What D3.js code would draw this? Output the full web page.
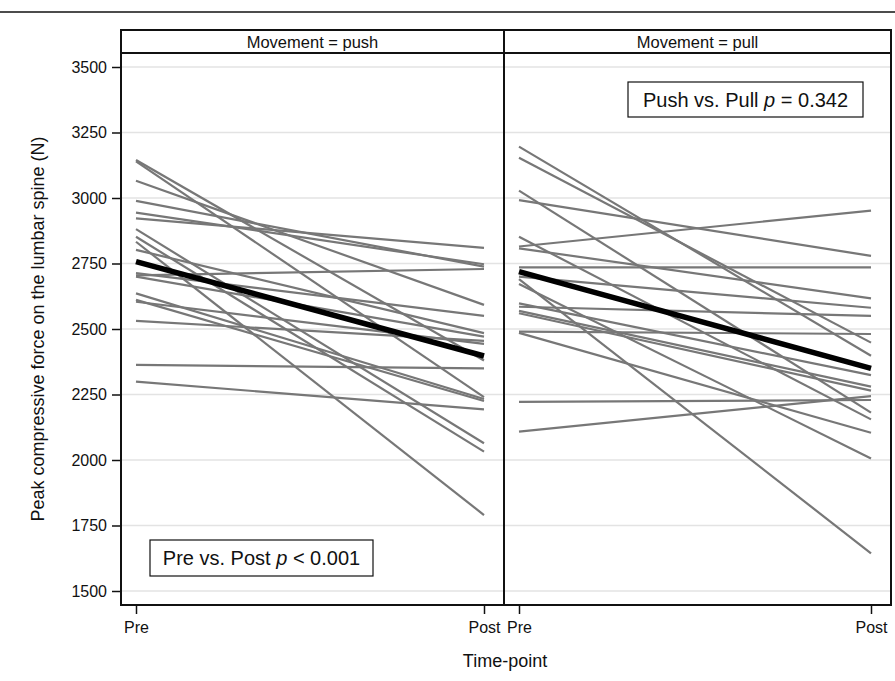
<!DOCTYPE html>
<html>
<head>
<meta charset="utf-8">
<script src="https://cdn.jsdelivr.net/npm/d3@7"></script>
<style>
  body { margin: 0; background: #fff; }
  text { font-family: "Liberation Sans", Arial, sans-serif; }
</style>
</head>
<body>
<div id="chart"></div>
<script>
// time points on the x axis
var timePoints = ["Pre", "Post"];
var yTicks = [1500, 1750, 2000, 2250, 2500, 2750, 3000, 3250, 3500];

// Movement = push, one line per subject
var pushPre  = [3145, 3140, 3066, 2989, 2944, 2922, 2881, 2852, 2833, 2802, 2713, 2705, 2700, 2636, 2611, 2604, 2531, 2363, 2299];
var pushPost = [2380, 2240, 2592, 2738, 2747, 2810, 2064, 2032, 1790, 2484, 2550, 2729, 2471, 2233, 2225, 2443, 2455, 2350, 2193];
var pushMean = [2757, 2397];

// Movement = pull
var pullPre  = [3196, 3154, 3028, 2992, 2852, 2815, 2808, 2735, 2700, 2690, 2672, 2598, 2585, 2569, 2560, 2490, 2485, 2222, 2108];
var pullPost = [2398, 2448, 2181, 2779, 2155, 2952, 2617, 2735, 2581, 1644, 2006, 2324, 2550, 2280, 2265, 2481, 2104, 2229, 2244];
var pullMean = [2719, 2350];

var width = 895, height = 681;
var svg = d3.select("#chart").append("svg")
    .attr("width", width)
    .attr("height", height);

var plotTop = 53, plotBottom = 605, headTop = 30;
var y = d3.scaleLinear().domain([1500, 3500]).range([591, 67]);

var panels = [
  {label: "Movement = push", x0: 121, x1: 504, pre: pushPre, post: pushPost, mean: pushMean},
  {label: "Movement = pull", x0: 504, x1: 891, pre: pullPre, post: pullPost, mean: pullMean}
];

// top rule
svg.append("line")
    .attr("x1", 0).attr("x2", width)
    .attr("y1", 12).attr("y2", 12)
    .style("stroke", "#111").style("stroke-width", 1.5);

panels.forEach(function(p, i) {
  var x = d3.scalePoint().domain(timePoints)
      .range([p.x0 + 15, p.x1 - 20]);

  var g = svg.append("g");

  // grid lines
  g.selectAll("line.grid").data(yTicks).enter().append("line")
      .attr("class", "grid")
      .attr("x1", p.x0).attr("x2", p.x1)
      .attr("y1", function(d) { return y(d); })
      .attr("y2", function(d) { return y(d); })
      .style("stroke", "#e3e3e3").style("stroke-width", 1.5);

  // subject lines
  var idx = d3.range(p.pre.length);
  g.selectAll("line.subj").data(idx).enter().append("line")
      .attr("class", "subj")
      .attr("x1", x("Pre")).attr("x2", x("Post"))
      .attr("y1", function(d) { return y(p.pre[d]); })
      .attr("y2", function(d) { return y(p.post[d]); })
      .style("stroke", "#777").style("stroke-width", 2.2);

  // mean line
  g.append("line")
      .attr("x1", x("Pre")).attr("x2", x("Post"))
      .attr("y1", y(p.mean[0])).attr("y2", y(p.mean[1]))
      .style("stroke", "#000").style("stroke-width", 5.5);

  // panel frame and header strip
  g.append("rect")
      .attr("x", p.x0).attr("y", plotTop)
      .attr("width", p.x1 - p.x0).attr("height", plotBottom - plotTop)
      .style("fill", "none").style("stroke", "#111").style("stroke-width", 2);
  g.append("rect")
      .attr("x", p.x0).attr("y", headTop)
      .attr("width", p.x1 - p.x0).attr("height", plotTop - headTop)
      .style("fill", "#fff").style("stroke", "#111").style("stroke-width", 2);
  g.append("text")
      .attr("x", (p.x0 + p.x1) / 2).attr("y", 47.5)
      .attr("text-anchor", "middle")
      .style("font-size", "16.5px").style("fill", "#111")
      .text(p.label);

  // x axis
  var xAxis = d3.axisBottom(x).tickSize(8).tickPadding(8);
  var ax = svg.append("g")
      .attr("transform", "translate(0," + (plotBottom + 1) + ")")
      .call(xAxis);
  ax.select(".domain").remove();
  ax.selectAll("line").style("stroke", "#111").style("stroke-width", 1.5);
  ax.selectAll("text").style("font-size", "16px").style("fill", "#111")
      .style("font-family", "Liberation Sans, Arial, sans-serif");
});

// y axis
var yAxis = d3.axisLeft(y).tickValues(yTicks).tickFormat(d3.format("d"))
    .tickSize(8).tickPadding(5);
var ay = svg.append("g")
    .attr("transform", "translate(120,0)")
    .call(yAxis);
ay.select(".domain").remove();
ay.selectAll("line").style("stroke", "#111").style("stroke-width", 1.5);
ay.selectAll("text").style("font-size", "16px").style("fill", "#111")
    .style("font-family", "Liberation Sans, Arial, sans-serif");

svg.append("text")
    .attr("transform", "translate(44,329) rotate(-90)")
    .attr("text-anchor", "middle")
    .style("font-size", "18px").style("fill", "#111")
    .text("Peak compressive force on the lumbar spine (N)");

svg.append("text")
    .attr("x", 505).attr("y", 667)
    .attr("text-anchor", "middle")
    .style("font-size", "18px").style("fill", "#111")
    .text("Time-point");

// annotation boxes
function note(x0, y0, w, h, before, after) {
  svg.append("rect")
      .attr("x", x0).attr("y", y0).attr("width", w).attr("height", h)
      .style("fill", "#fff").style("stroke", "#111").style("stroke-width", 1.2);
  var t = svg.append("text")
      .attr("x", x0 + w / 2).attr("y", y0 + h / 2 + 7)
      .attr("text-anchor", "middle")
      .style("font-size", "20px").style("fill", "#111");
  t.append("tspan").text(before);
  t.append("tspan").style("font-style", "italic").text("p");
  t.append("tspan").text(after);
}
note(150, 540, 223, 36, "Pre vs. Post ", " < 0.001");
note(628, 82, 235, 35, "Push vs. Pull ", " = 0.342");
</script>
</body>
</html>
